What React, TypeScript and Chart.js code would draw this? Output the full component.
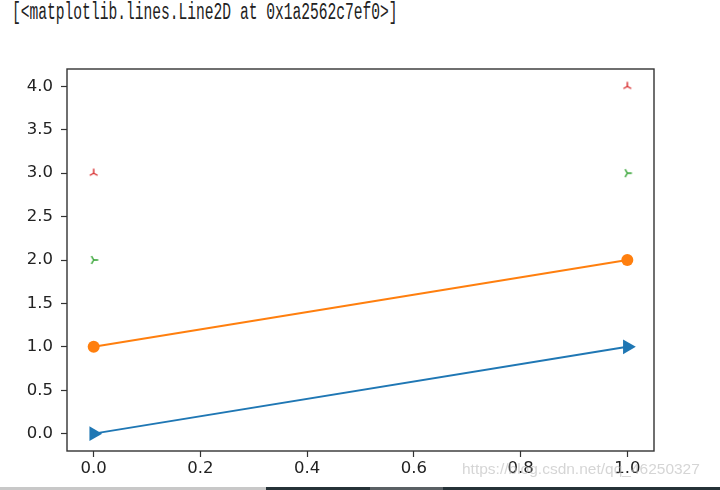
import React, { useEffect, useRef } from "react";
import { Chart, registerables } from "chart.js";

Chart.register(...registerables);

const xValues = [0, 1];
const blueY = [0, 1];
const orangeY = [1, 2];
const greenY = [2, 3];
const redY = [3, 4];
const xTicks = [0, 0.2, 0.4, 0.6, 0.8, 1.0];
const yTicks = [0, 0.5, 1.0, 1.5, 2.0, 2.5, 3.0, 3.5, 4.0];
const headerText = "[<matplotlib.lines.Line2D at 0x1a2562c7ef0>]";
const watermark = "https://blog.csdn.net/qq_46250327";

function makeTri(color: string, dir: "up" | "right"): HTMLCanvasElement {
  const c = document.createElement("canvas");
  c.width = 14;
  c.height = 14;
  const ctx = c.getContext("2d")!;
  ctx.strokeStyle = color;
  ctx.lineWidth = 1.4;
  ctx.lineCap = "butt";
  const cx = 7, cy = 7, r = 4.5;
  const angles = dir === "up" ? [-90, 30, 150] : [0, 120, 240];
  ctx.beginPath();
  for (const a of angles) {
    const rad = (a * Math.PI) / 180;
    ctx.moveTo(cx, cy);
    ctx.lineTo(cx + r * Math.cos(rad), cy + r * Math.sin(rad));
  }
  ctx.stroke();
  return c;
}

const pts = (ys: number[]) => xValues.map((x, i) => ({ x, y: ys[i] }));

export default function App() {
  const ref = useRef<HTMLCanvasElement>(null);
  useEffect(() => {
    const boxPlugin = {
      id: "box",
      afterDraw(chart: any) {
        const { left, right, top, bottom } = chart.chartArea;
        const ctx = chart.ctx;
        ctx.save();
        ctx.strokeStyle = "#333";
        ctx.lineWidth = 1.4;
        ctx.strokeRect(left, top, right - left, bottom - top);
        ctx.restore();
      },
    };
    const font = { family: "'DejaVu Sans'", size: 16.5 };
    const chart = new Chart(ref.current!, {
      type: "scatter",
      data: {
        datasets: [
          {
            data: pts(blueY),
            showLine: true,
            borderColor: "#1f77b4",
            backgroundColor: "#1f77b4",
            borderWidth: 2,
            pointStyle: "triangle",
            pointRotation: 90,
            pointRadius: 8.5,
            pointBorderWidth: 0,
          },
          {
            data: pts(orangeY),
            showLine: true,
            borderColor: "#ff7f0e",
            backgroundColor: "#ff7f0e",
            borderWidth: 2,
            pointStyle: "circle",
            pointRadius: 6,
            pointBorderWidth: 0,
          },
          {
            data: pts(greenY),
            showLine: false,
            pointStyle: makeTri("#2ca02c", "right"),
          },
          {
            data: pts(redY),
            showLine: false,
            pointStyle: makeTri("#d62728", "up"),
          },
        ],
      },
      options: {
        animation: false,
        responsive: false,
        layout: { padding: { top: 69, right: 66, left: 0, bottom: 0 } },
        plugins: { legend: { display: false }, tooltip: { enabled: false } },
        scales: {
          x: {
            type: "linear",
            min: -0.05,
            max: 1.05,
            afterBuildTicks: (s: any) => {
              s.ticks = xTicks.map((v) => ({ value: v }));
            },
            afterFit: (s: any) => {
              s.height = 39;
            },
            ticks: {
              font,
              color: "#222",
              padding: 2,
              maxRotation: 0,
              callback: (v: any) => Number(v).toFixed(1),
            },
            grid: { drawOnChartArea: false, tickLength: 6, color: "#333", tickWidth: 1.2 },
            border: { display: false },
          },
          y: {
            type: "linear",
            min: -0.2,
            max: 4.2,
            afterBuildTicks: (s: any) => {
              s.ticks = yTicks.map((v) => ({ value: v }));
            },
            afterFit: (s: any) => {
              s.width = 67;
            },
            ticks: {
              font,
              color: "#222",
              padding: 8,
              callback: (v: any) => Number(v).toFixed(1),
            },
            grid: { drawOnChartArea: false, tickLength: 6, color: "#333", tickWidth: 1.2 },
            border: { display: false },
          },
        },
      },
      plugins: [boxPlugin],
    } as any);
    return () => chart.destroy();
  }, []);
  return (
    <div style={{ position: "absolute", left: 0, top: 0, width: 720, height: 490, background: "#fff", overflow: "hidden" }}>
      <div
        style={{
          position: "absolute",
          left: 12,
          top: 0,
          fontFamily: "'Liberation Mono', monospace",
          fontSize: 23,
          color: "#222",
          whiteSpace: "pre",
          transform: "scaleX(0.635)",
          transformOrigin: "left top",
        }}
      >
        {headerText}
      </div>
      <canvas ref={ref} width={720} height={490} style={{ position: "absolute", left: 0, top: 0 }} />
      <div
        style={{
          position: "absolute",
          left: 462,
          top: 460,
          fontFamily: "'Liberation Sans', Arial, sans-serif",
          fontSize: 15.5,
          color: "rgba(185,185,185,0.6)",
          whiteSpace: "pre",
        }}
      >
        {watermark}
      </div>
      <div style={{ position: "absolute", left: 0, top: 487, width: 266, height: 3, background: "#c8c8c8" }} />
      <div style={{ position: "absolute", left: 266, top: 487, width: 104, height: 3, background: "#263238" }} />
      <div style={{ position: "absolute", left: 370, top: 487, width: 73, height: 3, background: "#5a6064" }} />
      <div style={{ position: "absolute", left: 443, top: 487, width: 277, height: 3, background: "#263238" }} />
    </div>
  );
}
